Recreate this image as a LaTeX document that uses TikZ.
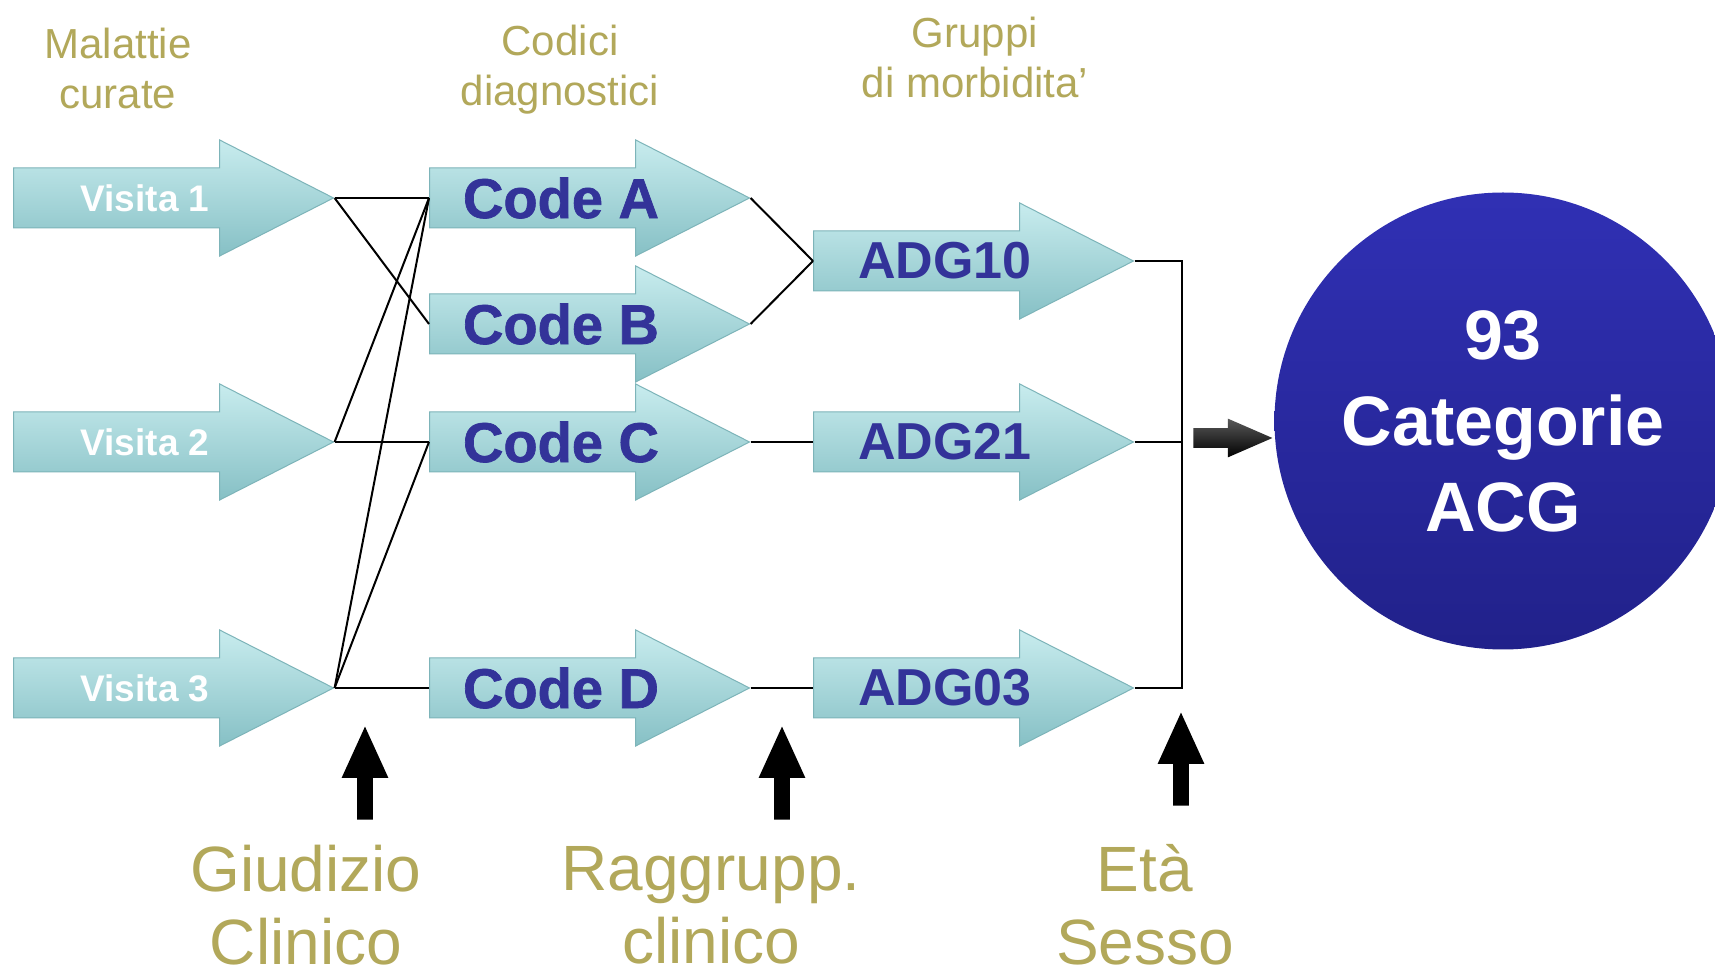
\documentclass[tikz,border=0pt]{standalone}
\usepackage{fontspec}
\setmainfont{Liberation Sans}
\usetikzlibrary{shapes.arrows}
\definecolor{labolive}{RGB}{178,168,90}
\definecolor{codeblue}{RGB}{51,51,153}
\definecolor{aqualight}{RGB}{200,236,238}
\definecolor{aquadark}{RGB}{134,192,197}
\definecolor{aquaedge}{RGB}{125,180,185}
\definecolor{acgtop}{RGB}{48,48,180}
\definecolor{acgbottom}{RGB}{33,33,138}
\tikzset{
  flow/.style={single arrow, single arrow head extend=14pt, single arrow tip angle=54,
    minimum height=160pt, inner xsep=0pt, inner ysep=14.75pt, anchor=tail,
    top color=aqualight, bottom color=aquadark, draw=aquaedge, line width=0.5pt},
  push/.style={single arrow, single arrow head extend=7.75pt, single arrow tip angle=49,
    minimum height=46.5pt, inner xsep=0pt, inner ysep=3.75pt, anchor=tail, rotate=90, fill=black},
  go/.style={single arrow, single arrow head extend=4.75pt, single arrow tip angle=47,
    minimum height=39.5pt, inner xsep=0pt, inner ysep=4.75pt, anchor=tail,
    top color=black!65, bottom color=black},
  head/.style={text=labolive, font=\fontsize{21}{25}\selectfont, align=center},
  foot/.style={text=labolive, font=\fontsize{32}{36.5}\selectfont, align=center},
  vtext/.style={text=white, font=\bfseries\fontsize{18.5}{22}\selectfont},
  ctext/.style={text=codeblue, font=\bfseries\addfontfeature{FakeBold=1.2}\fontsize{28}{30}\selectfont},
  atext/.style={text=codeblue, font=\bfseries\fontsize{26}{30}\selectfont},
  ball/.style={circle, minimum size=228.5pt, inner sep=0pt, top color=acgtop,
    bottom color=acgbottom, text=white, align=center,
    font=\bfseries\fontsize{35}{43}\selectfont}
}
\begin{document}
\begin{tikzpicture}[x=0.5pt,y=-0.5pt]
  \clip (0,0) rectangle (1715,977);
  \fill[white] (0,0) rectangle (1715,977);
  % column titles
  \node[head] (hm) at (118,68) {Malattie\\curate};
  \node[head] (hc) at (560,70) {Codici\\diagnostici};
  \node[head] (hg) at (975,57) {Gruppi\\di morbidita’};
  % visits
  \node[flow] (v1) at (13,198) {};
  \node[flow] (v2) at (13,442) {};
  \node[flow] (v3) at (13,688) {};
  \node[vtext] (v1t) at ([xshift=66pt]v1.tail) {Visita 1};
  \node[vtext] (v2t) at ([xshift=66pt]v2.tail) {Visita 2};
  \node[vtext] (v3t) at ([xshift=66pt]v3.tail) {Visita 3};
  % codes
  \node[flow] (ca) at (429,198) {};
  \node[flow] (cb) at (429,324) {};
  \node[flow] (cc) at (429,442) {};
  \node[flow] (cd) at (429,688) {};
  \node[ctext] (cat) at ([xshift=66pt]ca.tail) {Code A};
  \node[ctext] (cbt) at ([xshift=66pt]cb.tail) {Code B};
  \node[ctext] (cct) at ([xshift=66pt]cc.tail) {Code C};
  \node[ctext] (cdt) at ([xshift=66pt]cd.tail) {Code D};
  % ADG groups
  \node[flow] (a10) at (813,261) {};
  \node[flow] (a21) at (813,442) {};
  \node[flow] (a03) at (813,688) {};
  \node[atext] (a10t) at ([xshift=66pt]a10.tail) {ADG10};
  \node[atext] (a21t) at ([xshift=66pt]a21.tail) {ADG21};
  \node[atext] (a03t) at ([xshift=66pt]a03.tail) {ADG03};
  \coordinate (bus) at (1182,442);
  % result
  \node[go] (go) at (1193,438) {};
  \node[ball] (acg) at (1503,421) {93\\Categorie\\ACG};
  % inputs from below
  \node[push] (p1) at (365,820) {};
  \node[push] (p2) at (782,820) {};
  \node[push] (p3) at (1181,806) {};
  \node[foot] (f1) at (306,905) {Giudizio\\Clinico};
  \node[foot] (f2) at (711,905) {Raggrupp.\\clinico};
  \node[foot] (f3) at (1145,905) {Età\\Sesso};
  \begin{scope}[line width=1pt]
    \draw (v1.tip) to (ca.tail);
    \draw (v1.tip) to (cb.tail);
    \draw (v2.tip) to (ca.tail);
    \draw (v2.tip) to (cc.tail);
    \draw (v3.tip) to (ca.tail);
    \draw (v3.tip) to (cc.tail);
    \draw (v3.tip) to (cd.tail);
    \draw (ca.tip) to (a10.tail);
    \draw (cb.tip) to (a10.tail);
    \draw (cc.tip) to (a21.tail);
    \draw (cd.tip) to (a03.tail);
    \draw (a10.tip) -- (a10.tip -| bus) -- (a03.tip -| bus) -- (a03.tip);
    \draw (a21.tip) -- (a21.tip -| bus);
  \end{scope}
\end{tikzpicture}
\end{document}
